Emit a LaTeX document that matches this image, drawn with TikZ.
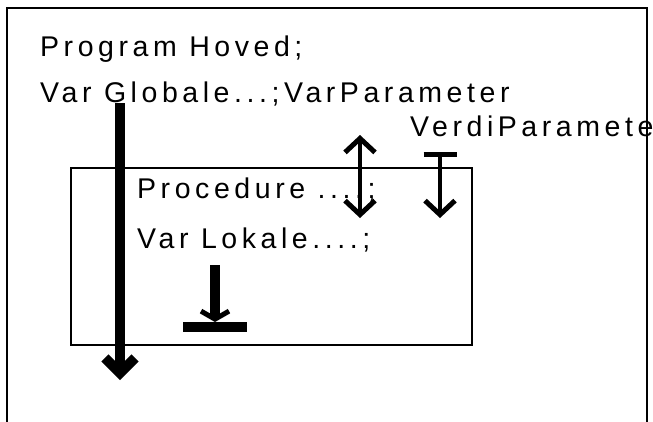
\documentclass[tikz,border=0pt]{standalone}
\usepackage{fontspec}
\setmainfont{Liberation Sans}[LetterSpace=16]
\usetikzlibrary{arrows.meta}

\begin{document}
\begin{tikzpicture}[x=1pt,y=-1pt,
    txt/.style={anchor=base west,inner sep=0pt,font=\fontsize{28.5}{34}\selectfont},
    barb/.tip={Straight Barb[length=14pt,width=30pt,line width=5pt]},
    thick arrow/.style={line width=10pt,-{Straight Barb[length=15pt,width=30pt]}},
    thin arrow/.style={line width=4.5pt}]
  \useasboundingbox (0,0) rectangle (653,421);
  \clip (0,0) rectangle (653,421);
  % main program and the procedure inside it
  \draw [line width=2.7pt] (7,8) rectangle (647,440);
  \draw [line width=2pt] (71,168) rectangle (472,345);
  \node [txt] (prog) at (40,56) {Program Hoved;};
  \node [txt] (glob) at (40,102) {Var Globale...;VarParameter};
  \node [txt] (verdi) at (410,136) {VerdiParameter};
  \node [txt] (proc) at (137,198) {Procedure ....;};
  \node [txt] (lok) at (137,248) {Var Lokale....;};
  % globals reach all the way down
  \coordinate (gtop) at (120,103);
  \coordinate (gend) at (120,380);
  \draw [thick arrow] (gtop) -- (gend);
  % var parameter goes both ways
  \coordinate (vtop) at (360,135);
  \coordinate (vend) at (360,218);
  \draw [thin arrow,barb-barb] (vtop) -- (vend);
  % value parameter only goes in
  \coordinate (dtop) at (440,152);
  \coordinate (dend) at (440,218);
  \draw [thin arrow,{Bar[width=33pt]}-barb] (dtop) -- (dend);
  % locals stop at the procedure
  \coordinate (ltop) at (215,265);
  \coordinate (lend) at (215,322);
  \coordinate (bl) at (183,327);
  \coordinate (br) at (247,327);
  \draw [line width=10pt,-{Straight Barb[length=8pt,width=28pt,line width=5pt]}] (ltop) -- (lend);
  \draw [line width=10pt] (bl) -- (br);
\end{tikzpicture}
\end{document}
